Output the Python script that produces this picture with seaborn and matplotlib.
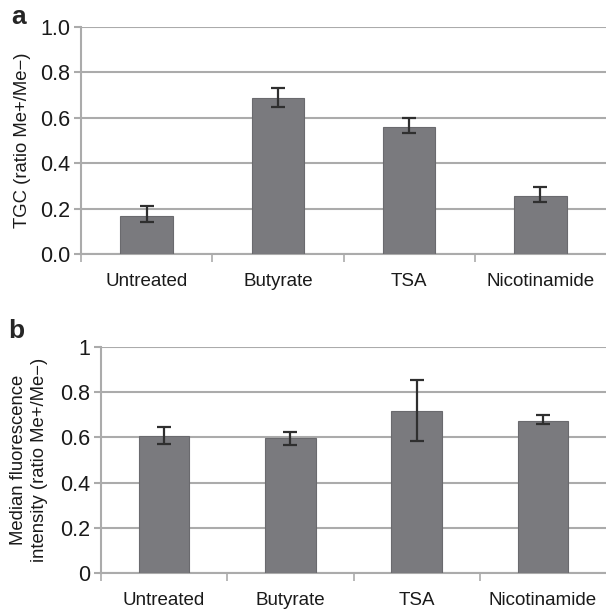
import numpy as np
import matplotlib
matplotlib.use("Agg")
import matplotlib.pyplot as plt
import seaborn as sns
from matplotlib.ticker import FixedLocator, NullFormatter

treatments = ["Untreated", "Butyrate", "TSA", "Nicotinamide"]

# panel a: TGC ratio
tgc_mean = [0.169, 0.688, 0.558, 0.257]
tgc_low = [0.142, 0.647, 0.534, 0.227]
tgc_high = [0.210, 0.733, 0.597, 0.296]

# panel b: median fluorescence intensity ratio
mfi_mean = [0.607, 0.597, 0.715, 0.672]
mfi_low = [0.571, 0.568, 0.584, 0.659]
mfi_high = [0.647, 0.626, 0.856, 0.699]

a_ticks = [0.0, 0.2, 0.4, 0.6, 0.8, 1.0]
a_ticklabels = ["0.0", "0.2", "0.4", "0.6", "0.8", "1.0"]
b_ticks = [0, 0.2, 0.4, 0.6, 0.8, 1.0]
b_ticklabels = ["0", "0.2", "0.4", "0.6", "0.8", "1"]

sns.set_style("white")
plt.rcParams["font.family"] = ["Liberation Sans", "DejaVu Sans"]

bar_color = "#7a7a7e"
grid_color = "#ababab"

fig = plt.figure(figsize=(6.06, 6.09), dpi=100)
ax_a = fig.add_axes([81 / 606, 1 - 254 / 609, 1 - 81 / 606, 227 / 609])
ax_b = fig.add_axes([101 / 606, 1 - 573 / 609, 1 - 101 / 606, 226 / 609])


def panel(ax, mean, low, high, ticks, ticklabels, ylabel):
    sns.barplot(x=treatments, y=mean, ax=ax, color=bar_color, width=0.4,
                edgecolor="#6a6a6e", linewidth=0.8, saturation=1, zorder=3)
    mean = np.array(mean)
    yerr = [mean - np.array(low), np.array(high) - mean]
    ax.errorbar(np.arange(len(treatments)), mean, yerr=yerr, fmt="none",
                ecolor="#2f2f2f", elinewidth=1.6, capsize=5, capthick=1.6, zorder=4)
    ax.set_xlim(-0.5, 3.5)
    ax.set_ylim(0, 1.0)
    ax.yaxis.set_major_locator(FixedLocator(ticks))
    ax.set_yticklabels(ticklabels, fontsize=15.5, color="#1a1a1a")
    ax.yaxis.grid(True, color=grid_color, linewidth=1.5, zorder=0)
    ax.set_axisbelow(True)
    for s in ["top", "right"]:
        ax.spines[s].set_visible(False)
    for s in ["left", "bottom"]:
        ax.spines[s].set_color(grid_color)
        ax.spines[s].set_linewidth(1.5)
    ax.tick_params(axis="y", which="major", length=5, width=1.5, color=grid_color, pad=3, left=True)
    ax.tick_params(axis="x", which="major", length=0, pad=14, labelsize=13.5, labelcolor="#1a1a1a")
    ax.xaxis.set_minor_locator(FixedLocator([-0.5, 0.5, 1.5, 2.5]))
    ax.xaxis.set_minor_formatter(NullFormatter())
    ax.tick_params(axis="x", which="minor", length=6, width=1.2, color=grid_color, bottom=True)
    ax.set_xlabel("")
    ax.set_ylabel(ylabel, fontsize=13.3, color="#1a1a1a", linespacing=1.3)


panel(ax_a, tgc_mean, tgc_low, tgc_high, a_ticks, a_ticklabels, "TGC (ratio Me+/Me\u2212)")
ax_a.yaxis.set_label_coords(-50 / 525, 0.5)

panel(ax_b, mfi_mean, mfi_low, mfi_high, b_ticks, b_ticklabels,
      "Median fluorescence\nintensity (ratio Me+/Me\u2212)")
ax_b.yaxis.set_label_coords(-53 / 505, 0.5)

fig.text(19 / 606, 1 - 17 / 609, "a", fontsize=19, fontweight="bold", ha="center", va="center")
fig.text(16 / 606, 1 - 331 / 609, "b", fontsize=19, fontweight="bold", ha="center", va="center")

fig.savefig("out.png", dpi=100)
